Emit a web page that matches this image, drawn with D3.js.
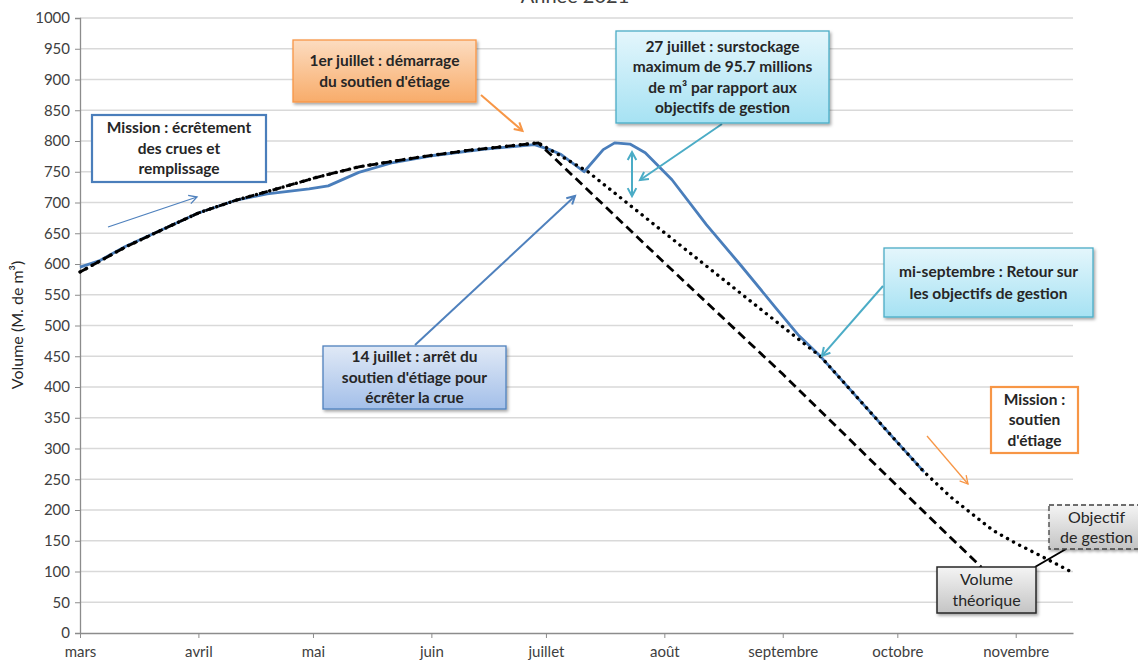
<!DOCTYPE html>
<html><head><meta charset="utf-8">
<script src="https://cdn.jsdelivr.net/npm/d3@7"></script>
<style>
html,body{margin:0;padding:0;background:#fff;}
svg{display:block;font-family:Lato,"Open Sans",sans-serif;}
</style></head>
<body>
<svg id="chart" width="1138" height="661"></svg>
<script>
// ---------- DATA ----------
const chartTitle = "Année 2021";
const yLabel = "Volume (M. de m³)";
const monthLabels = ["mars","avril","mai","juin","juillet","août","septembre","octobre","novembre"];
const yTickValues = d3.range(0, 1001, 50);

// Volume réel (courbe bleue)
const realDates  = ["2021-03-01","2021-03-06","2021-03-13","2021-03-24","2021-04-01","2021-04-11","2021-04-19","2021-04-30","2021-05-05","2021-05-13","2021-05-22","2021-06-01","2021-06-15","2021-06-28","2021-07-02","2021-07-05","2021-07-11","2021-07-16","2021-07-19","2021-07-23","2021-07-27","2021-08-03","2021-08-12","2021-08-21","2021-08-30","2021-09-05","2021-09-11","2021-10-01","2021-10-08"];
const realValues = [595,605,629,660,683,704,714,722,727,749,765,776,787,794,786,778,750,786,797,795,781,737,664,598,530,485,449,310,262];

// Objectif de gestion (pointillés)
const objDates  = ["2021-03-01","2021-03-13","2021-03-24","2021-04-01","2021-04-11","2021-04-22","2021-05-02","2021-05-13","2021-05-29","2021-06-11","2021-06-29","2021-07-12","2021-08-01","2021-09-01","2021-09-11","2021-10-01","2021-10-08","2021-10-15","2021-10-26","2021-11-01","2021-11-08","2021-11-16"];
const objValues = [587,628,660,683,704,723,741,758,774,785,797,750,651,498,449,310,262,221,167,146,124,98];

// Volume théorique (tirets)
const theoDates  = ["2021-03-01","2021-03-13","2021-03-24","2021-04-01","2021-04-11","2021-04-22","2021-05-02","2021-05-13","2021-05-29","2021-06-11","2021-06-29","2021-08-01","2021-09-01","2021-10-01","2021-10-23"];
const theoValues = [587,628,660,683,704,723,741,758,774,785,797,602,421,239,107];

// ---------- SETUP ----------
const svg = d3.select("#chart");
const parse = d3.timeParse("%Y-%m-%d");
const x = d3.scaleTime().domain([parse("2021-03-01"), parse("2021-11-16")]).range([80, 1073]);
const y = d3.scaleLinear().domain([0, 1000]).range([633, 18]);
const monthDates = monthLabels.map((m, i) => new Date(2021, 2 + i, 1));

const defs = svg.append("defs");
function grad(id, c1, c2){
  const g = defs.append("linearGradient").attr("id", id).attr("x1",0).attr("y1",0).attr("x2",0).attr("y2",1);
  g.append("stop").attr("offset","0%").attr("stop-color",c1);
  g.append("stop").attr("offset","100%").attr("stop-color",c2);
}
grad("gOrange", "#fcdcc0", "#f8ac6a");
grad("gCyan", "#e4f6fc", "#a6e2f3");
grad("gBlue", "#e0e9f6", "#a3bfe9");
grad("gGray", "#f4f4f4", "#c4c4c4");
const f = defs.append("filter").attr("id","shadow").attr("x","-10%").attr("y","-10%").attr("width","130%").attr("height","140%");
f.append("feDropShadow").attr("dx",1.5).attr("dy",2).attr("stdDeviation",1.5).attr("flood-color","#000").attr("flood-opacity",0.35);

// title (mostly clipped at top, as in the reference)
svg.append("text").attr("x", 575).attr("y", 3).attr("text-anchor","middle")
  .attr("font-size", 20).attr("fill","#404040").text(chartTitle);

// gridlines
svg.append("g").selectAll("line").data(yTickValues.filter(v => v > 0)).join("line")
  .attr("x1", 80).attr("x2", 1073).attr("y1", d => y(d)).attr("y2", d => y(d))
  .attr("stroke", "#d9d9d9").attr("stroke-width", 1.3);

// y axis
const yAxis = svg.append("g").attr("transform","translate(80,0)")
  .call(d3.axisLeft(y).tickValues(yTickValues).tickFormat(d3.format("d")).tickSize(5).tickPadding(5));
yAxis.select(".domain").attr("stroke","#8c8c8c").attr("stroke-width",1.3);
yAxis.selectAll(".tick line").attr("stroke","#8c8c8c");
yAxis.selectAll("text").attr("font-size",15).attr("fill","#404040").attr("font-family","Lato, sans-serif");

// x axis
const xAxis = svg.append("g").attr("transform","translate(0,633)")
  .call(d3.axisBottom(x).tickValues(monthDates).tickFormat((d,i) => monthLabels[i]).tickSize(5).tickPadding(8).tickSizeOuter(0));
xAxis.select(".domain").attr("stroke","#8c8c8c").attr("stroke-width",1.3);
xAxis.selectAll(".tick line").attr("stroke","#8c8c8c");
xAxis.selectAll("text").attr("font-size",15).attr("fill","#404040").attr("font-family","Lato, sans-serif");

// y label
svg.append("text").attr("transform","translate(23,325) rotate(-90)").attr("text-anchor","middle")
  .attr("font-size",16).attr("fill","#262626").text(yLabel);

// lines
const line = d3.line().x(d => x(d[0])).y(d => y(d[1]));
const zip = (ds, vs) => ds.map((d,i) => [parse(d), vs[i]]);

svg.append("path").datum(zip(realDates, realValues)).attr("d", line)
  .attr("fill","none").attr("stroke","#4a7ebb").attr("stroke-width",2.8).attr("stroke-linejoin","round");
svg.append("path").datum(zip(theoDates, theoValues)).attr("d", line)
  .attr("fill","none").attr("stroke","#000").attr("stroke-width",2.8).attr("stroke-dasharray","9,5");
svg.append("path").datum(zip(objDates, objValues)).attr("d", line)
  .attr("fill","none").attr("stroke","#000").attr("stroke-width",3.4).attr("stroke-dasharray","0.1,6.8").attr("stroke-linecap","round");

// ---------- ANNOTATIONS ----------
function arrow(x1, y1, x2, y2, color, w, both){
  const g = svg.append("g");
  g.append("line").attr("x1",x1).attr("y1",y1).attr("x2",x2).attr("y2",y2)
    .attr("stroke",color).attr("stroke-width",w);
  const head = (ax, ay, bx, by) => {
    const a = Math.atan2(by - ay, bx - ax), L = 9, s = 0.5;
    const p = [[bx - L*Math.cos(a - s), by - L*Math.sin(a - s)],[bx, by],[bx - L*Math.cos(a + s), by - L*Math.sin(a + s)]];
    g.append("polyline").attr("points", p.map(q => q.join(",")).join(" "))
      .attr("fill","none").attr("stroke",color).attr("stroke-width",w).attr("stroke-linejoin","miter");
  };
  head(x1, y1, x2, y2);
  if (both) head(x2, y2, x1, y1);
}

function box(x0, y0, w, h, fill, stroke, sw, lines, opts = {}){
  const g = svg.append("g");
  const r = g.append("rect").attr("x",x0).attr("y",y0).attr("width",w).attr("height",h)
    .attr("fill",fill).attr("stroke",stroke).attr("stroke-width",sw);
  if (opts.shadow !== false) r.attr("filter","url(#shadow)");
  if (opts.dash) r.attr("stroke-dasharray", opts.dash);
  const lh = opts.lh || 20.5;
  const cy = y0 + h/2 - (lines.length - 1) * lh / 2;
  lines.forEach((t, i) => {
    g.append("text").attr("x", x0 + w/2).attr("y", cy + i*lh).attr("dy","0.35em")
      .attr("text-anchor","middle").attr("font-size", opts.fs || 15.5)
      .attr("font-weight", opts.bold === false ? "normal" : "bold")
      .attr("fill", opts.color || "#262626").text(t);
  });
}

// arrows (tips attached to data where relevant)
arrow(108, 227, 197, 197, "#4f81bd", 1.3);
arrow(481, 95, x(parse("2021-06-28")) - 12, y(797) - 12, "#f79646", 2);
arrow(722, 124, 640, 180, "#4bacc6", 2);
arrow(632, y(790) + 5, 632, y(704) - 4, "#4bacc6", 2, true);
arrow(415, 345, 575, 196, "#4f81bd", 2);
arrow(883, 286, x(parse("2021-09-11")) + 1, y(449) - 1, "#4bacc6", 2);
arrow(927, 436, 968, 484, "#f79646", 1.3);
svg.append("line").attr("x1",1035).attr("y1",567).attr("x2",1066).attr("y2",549)
  .attr("stroke","#000").attr("stroke-width",2);

box(92, 115, 174, 67, "#fff", "#4a7ebb", 2.2, ["Mission : écrêtement","des crues et","remplissage"], {shadow:false});
box(293, 40, 183, 62, "url(#gOrange)", "#f79646", 1.3, ["1er juillet : démarrage","du soutien d'étiage"], {lh:21});
box(616, 31, 213, 92, "url(#gCyan)", "#4bacc6", 1.3, ["27 juillet  : surstockage","maximum de 95.7 millions","de m³  par rapport aux","objectifs de gestion"]);
box(323, 346, 183, 63, "url(#gBlue)", "#4f81bd", 1.3, ["14 juillet : arrêt du","soutien d'étiage pour","écrêter la crue"]);
box(884, 248, 209, 69, "url(#gCyan)", "#4bacc6", 1.3, ["mi-septembre : Retour sur","les objectifs de gestion"], {lh:22});
box(991, 387, 87, 66, "#fff", "#f79646", 2.2, ["Mission :","soutien","d'étiage"], {shadow:false});
box(1049, 505, 95, 44, "url(#gGray)", "#404040", 1.3, ["Objectif","de gestion"], {bold:false, fs:16, dash:"5,3", lh:20});
box(937, 567, 99, 46, "url(#gGray)", "#262626", 1.5, ["Volume","théorique"], {bold:false, fs:16, lh:21});
</script>
</body></html>
